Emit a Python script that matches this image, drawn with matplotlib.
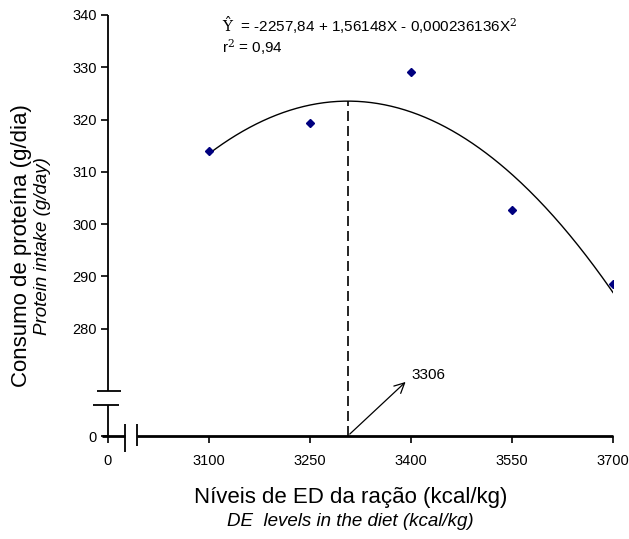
import numpy as np
import matplotlib
matplotlib.use("Agg")
import matplotlib.pyplot as plt

plt.rcParams['font.family'] = ['Liberation Sans', 'DejaVu Sans']
plt.rcParams['mathtext.fontset'] = 'dejavuserif'

# data
energy = [3100, 3250, 3400, 3550, 3700]
intake = [314.0, 319.4, 329.1, 302.7, 288.6]
x_ticks = [3100, 3250, 3400, 3550, 3700]
y_ticks = [280, 290, 300, 310, 320, 330, 340]

# fitted equation shown on the chart
b0 = -2257.84
b1 = 1.56148
b2 = -0.000236136
x_opt = 3306

# positions standing in for the broken "0" on each axis
x_zero = 2950
y_zero = 259.5


def fitted(x):
    return b0 + b1 * x + b2 * x ** 2


fig = plt.figure(figsize=(6.29, 5.39), dpi=100)
ax = fig.add_axes([108 / 629, 1 - 436 / 539, (613 - 108) / 629, (436 - 15) / 539])
ax.set_xlim(x_zero, 3700)
ax.set_ylim(y_zero, 340)
for s in ax.spines.values():
    s.set_visible(False)

# curve + points
xc = np.linspace(energy[0], energy[-1], 300)
ax.plot(xc, fitted(xc), color='black', linewidth=1)
ax.plot(energy, intake, linestyle='none', marker='D', markersize=4.5,
        color='#00007f', zorder=5)

# optimum
ax.plot([x_opt, x_opt], [y_zero, fitted(x_opt)], color='black',
        linewidth=1.2, dashes=(6, 3))
ax.annotate('', xy=(3395, 270.2), xytext=(x_opt, y_zero),
            arrowprops=dict(arrowstyle='->', color='black', lw=0.9,
                            mutation_scale=18))
ax.text(3401, 271.2, str(x_opt), fontsize=11, ha='left', va='center')

# broken axes drawn by hand
kw = dict(color='black', clip_on=False, solid_capstyle='butt')
ax.plot([x_zero, x_zero], [340, 268.1], linewidth=1.3, **kw)
ax.plot([x_zero, x_zero], [265.4, y_zero], linewidth=1.3, **kw)
ax.plot([2934, 2969], [268.1, 268.1], linewidth=1.3, **kw)
ax.plot([2927, 2966], [265.4, 265.4], linewidth=1.3, **kw)
ax.plot([x_zero - 9, 2975], [y_zero, y_zero], linewidth=2, **kw)
ax.plot([2993, 3700], [y_zero, y_zero], linewidth=2, **kw)
ax.plot([2975, 2975], [261.8, 256.4], linewidth=1.3, **kw)
ax.plot([2993, 2993], [261.8, 257.6], linewidth=1.3, **kw)

ax.set_xticks([x_zero] + x_ticks)
ax.set_xticklabels(['0'] + [str(v) for v in x_ticks])
ax.set_yticks([y_zero] + y_ticks)
ax.set_yticklabels(['0'] + [str(v) for v in y_ticks])
ax.tick_params(axis='both', direction='out', length=5, width=1.2,
               labelsize=10.5, pad=3)
ax.tick_params(axis='x', pad=8)

# equation
fig.text(222 / 629, 1 - 25 / 539,
         r'$\hat{\mathrm{Y}}$  = -2257,84 + 1,56148X - 0,000236136X$^2$',
         fontsize=11, ha='left', va='center')
fig.text(222 / 629, 1 - 47 / 539, r'r$^2$ = 0,94', fontsize=11,
         ha='left', va='center')

# axis titles
fig.text(22 / 629, 1 - 246 / 539, 'Consumo de proteína (g/dia)', fontsize=16,
         rotation=90, ha='center', va='center')
fig.text(43 / 629, 1 - 246 / 539, 'Protein intake (g/day)', fontsize=13.5,
         style='italic', rotation=90, ha='center', va='center')
fig.text(351 / 629, 1 - 497 / 539, 'Níveis de ED da ração (kcal/kg)',
         fontsize=16, ha='center', va='center')
fig.text(350 / 629, 1 - 521 / 539, 'DE  levels in the diet (kcal/kg)',
         fontsize=13.5, style='italic', ha='center', va='center')

fig.savefig('out.png', dpi=100)
